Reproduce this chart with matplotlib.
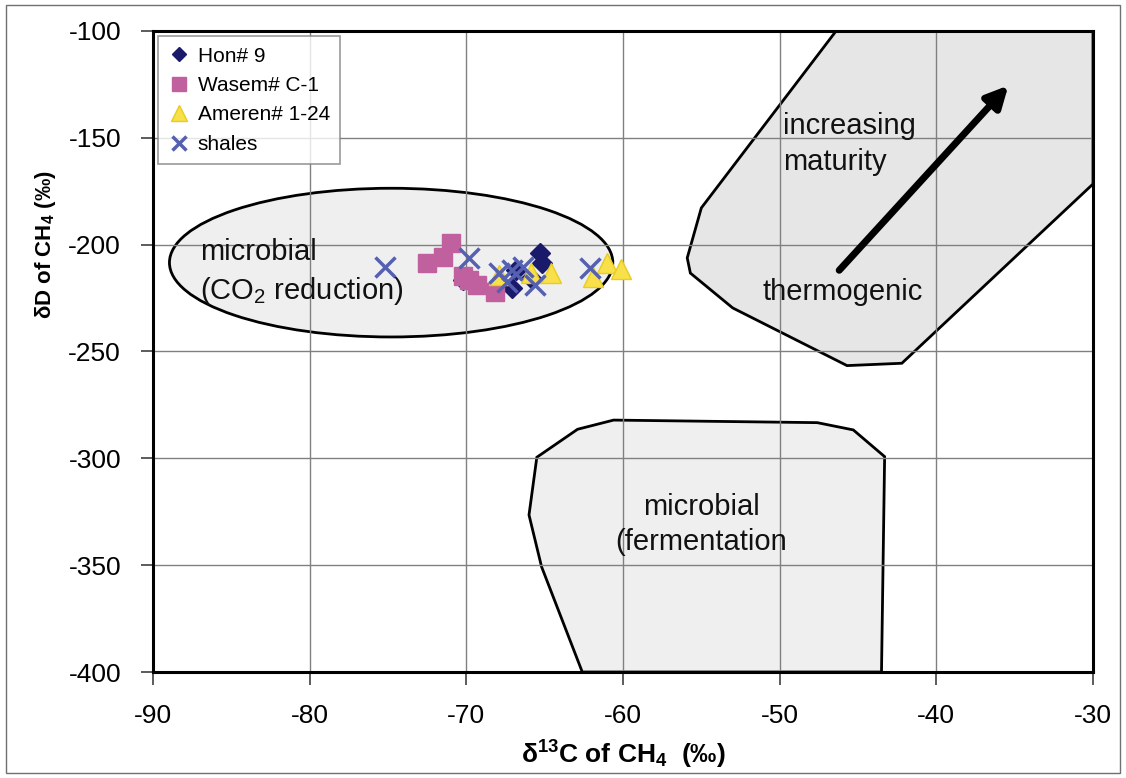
#!/usr/bin/env python3
# Carbon vs hydrogen isotope plot of methane with genetic fields.

import matplotlib as mpl
mpl.use("Agg")
import matplotlib.pyplot as plt
from matplotlib.patches import Ellipse, Polygon, Rectangle


# Sample series (delta13C, deltaD of CH4, per mil).
hon_x = [-70.2, -65.3, -65.2, -67.1, -66.8, -65.9]
hon_y = [-216.5, -204.0, -208.7, -220.4, -211.9, -215.7]
wasem_x = [-72.5, -71.5, -71.0, -70.2, -69.8, -69.3, -68.2]
wasem_y = [-208.6, -205.8, -199.2, -214.7, -216.5, -218.9, -222.2]
ameren_x = [-67.9, -65.9, -64.6, -61.9, -61.0, -60.1]
ameren_y = [-214.2, -213.4, -213.4, -215.0, -208.7, -211.5]
shale_x = [-75.2, -69.8, -67.9, -67.4, -67.1, -66.4, -65.6, -62.1]
shale_y = [-210.3, -206.4, -213.4, -217.3, -211.9, -210.3, -218.9, -211.1]

# Genetic fields.
co2_center = (-74.8, -208.4)
co2_size = (28.3, 69.6)
thermo_x = [-46.4, -30.0, -30.0, -42.2, -45.7, -53.0, -55.7, -55.9, -55.0]
thermo_y = [-100.0, -100.0, -171.6, -255.5, -256.6, -229.6, -213.3, -206.2, -182.8]
ferm_x = [-60.6, -47.6, -45.3, -43.3, -43.5, -62.6, -65.2, -66.0, -65.5, -62.9]
ferm_y = [-282.1, -283.3, -286.7, -299.2, -400.0, -400.0, -350.7, -326.5, -299.5, -286.4]

x_ticks = [-90, -80, -70, -60, -50, -40, -30]
y_ticks = [-100, -150, -200, -250, -300, -350, -400]

plt.rcParams["font.family"] = ["Liberation Sans", "DejaVu Sans"]
plt.rcParams["mathtext.fontset"] = "custom"
plt.rcParams["mathtext.rm"] = "Liberation Sans"
plt.rcParams["mathtext.bf"] = "Liberation Sans:bold"
plt.rcParams["mathtext.default"] = "regular"
plt.rcParams["axes.unicode_minus"] = False

fig = plt.figure(figsize=(11.26, 7.78), dpi=100)
ax = fig.add_axes([153 / 1126, 1 - 672 / 778, 940 / 1126, 641 / 778])
fig.patches.append(Rectangle((0.005, 0.006), 0.99, 0.988, transform=fig.transFigure,
                             fill=False, edgecolor="#707070", lw=1))

# fields
ax.add_patch(Ellipse(co2_center, co2_size[0], co2_size[1], facecolor="#efefef",
                     edgecolor="black", lw=2, zorder=0.3))
ax.add_patch(Polygon(list(zip(thermo_x, thermo_y)), closed=True, facecolor="#e6e6e6",
                     edgecolor="black", lw=2, zorder=0.3))
ax.add_patch(Polygon(list(zip(ferm_x, ferm_y)), closed=True, facecolor="#efefef",
                     edgecolor="black", lw=2, zorder=0.3))

# samples
ax.plot(hon_x, hon_y, ls="none", marker="D", ms=10, color="#1a1a6b", mec="#1a1a6b",
        label="Hon# 9", zorder=3)
ax.plot(wasem_x, wasem_y, ls="none", marker="s", ms=13, color="#c0609e", mec="#c0609e",
        label="Wasem# C-1", zorder=3)
ax.plot(ameren_x, ameren_y, ls="none", marker="^", ms=15, color="#f7e04a", mec="#e8cc20",
        label="Ameren# 1-24", zorder=3)
ax.plot(shale_x, shale_y, ls="none", marker="x", ms=14, mew=2.5, color="#5560b0",
        label="shales", zorder=3)

# annotations
ax.annotate("", xy=(-35.4, -125.5), xytext=(-46.2, -212.0),
            arrowprops=dict(arrowstyle="-|>", lw=5, color="black", mutation_scale=32,
                            shrinkA=0, shrinkB=0), zorder=4)
txt = dict(fontsize=21, color="#111111", zorder=4)
ax.text(-49.8, -153, "increasing\nmaturity", ha="left", va="center",
        linespacing=1.35, **txt)
ax.text(-46.0, -222, "thermogenic", ha="center", va="center", **txt)
ax.text(-55.0, -331, "microbial\n(fermentation", ha="center", va="center",
        linespacing=1.35, **txt)
ax.text(-87.0, -213, "microbial\n(CO$_2$ reduction)", ha="left", va="center",
        linespacing=1.35, **txt)

ax.set_xlim(-90, -30)
ax.set_ylim(-400, -100)
ax.set_xticks(x_ticks)
ax.set_yticks(y_ticks)
ax.set_axisbelow(True)
ax.grid(True, color="#808080", lw=1)
for s in ax.spines.values():
    s.set_linewidth(2.2)
ax.tick_params(axis="both", direction="out", length=9, width=1.2, color="#404040")
ax.tick_params(axis="x", labelsize=19, pad=14)
ax.tick_params(axis="y", labelsize=19, pad=14)

ax.set_xlabel(r"δ$^\mathbf{13}$C of CH$_\mathbf{4}$  (‰)", fontsize=19,
              fontweight="bold", labelpad=8)
ax.set_ylabel(r"δD of CH$_\mathbf{4}$ (‰)", fontsize=16, fontweight="bold")
ax.yaxis.set_label_coords(-0.101, 0.666)

leg = ax.legend(loc="upper left", bbox_to_anchor=(0.0055, 0.992), borderaxespad=0,
                fontsize=15, frameon=True, fancybox=False, handlelength=1.0,
                handletextpad=0.4, markerscale=0.75, labelspacing=0.5,
                borderpad=0.5)
leg.get_frame().set_edgecolor("#808080")
leg.get_frame().set_linewidth(1.2)
leg.set_zorder(5)

fig.savefig("out.png", dpi=100)
